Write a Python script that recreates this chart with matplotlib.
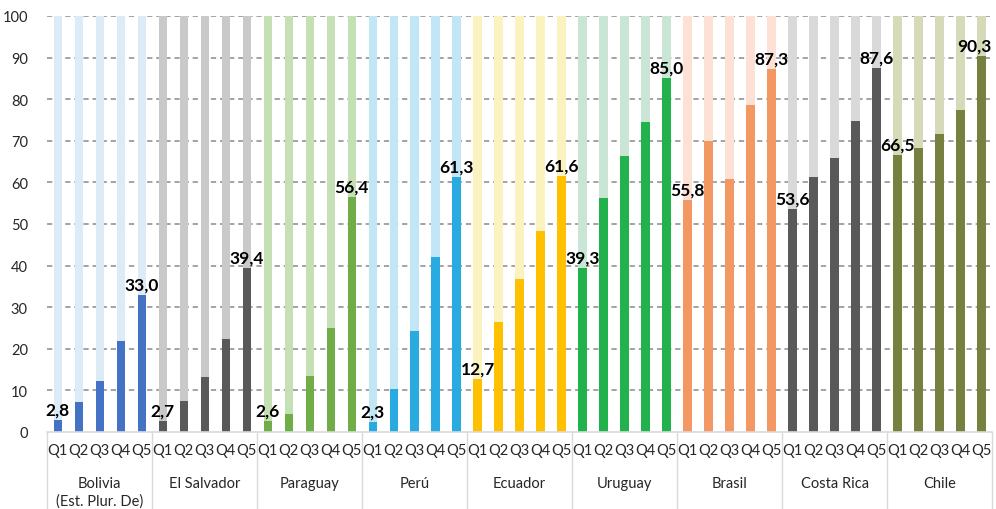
import numpy as np
import matplotlib
matplotlib.use("Agg")
import matplotlib.pyplot as plt

plt.rcParams['font.family'] = ['Lato', 'DejaVu Sans']

countries = ["Bolivia\n(Est. Plur. De)", "El Salvador", "Paraguay", "Perú", "Ecuador",
             "Uruguay", "Brasil", "Costa Rica", "Chile"]
quintiles = ["Q1", "Q2", "Q3", "Q4", "Q5"]

bolivia = [2.8, 7.2, 12.3, 21.8, 33.0]
el_salvador = [2.7, 7.4, 13.2, 22.4, 39.4]
paraguay = [2.6, 4.4, 13.5, 25.0, 56.4]
peru = [2.3, 10.3, 24.3, 42.1, 61.3]
ecuador = [12.7, 26.4, 36.8, 48.3, 61.6]
uruguay = [39.3, 56.3, 66.3, 74.6, 85.0]
brasil = [55.8, 70.0, 60.9, 78.7, 87.3]
costa_rica = [53.6, 61.3, 65.9, 74.8, 87.6]
chile = [66.5, 68.3, 71.7, 77.5, 90.3]

dark_colors = ["#4472C4", "#595959", "#70AD47", "#29ABE2", "#FFC000",
               "#21B14D", "#F39863", "#595959", "#78803F"]
light_colors = ["#DDEBF7", "#C9C9C9", "#C5E0B4", "#C1E6F5", "#FBF3BF",
                "#C9E5D5", "#FCE1D4", "#D9D9D9", "#D6DAB9"]

series = [bolivia, el_salvador, paraguay, peru, ecuador, uruguay, brasil, costa_rica, chile]

fig = plt.figure(figsize=(9.96, 5.10), dpi=100)
ax = fig.add_axes([0.0475, 0.151, 0.9485, 0.8157])

n = len(quintiles)
total = len(series) * n
width = 0.4

yticks = np.arange(0, 101, 10)
# dashed gridlines behind the bars
for yv in yticks[1:]:
    ax.axhline(yv, linestyle=(0, (3.3, 2.4)), color="#8F8F8F", linewidth=1.15, zorder=1)

for g, vals in enumerate(series):
    x = np.arange(n) + g * n
    ax.bar(x, [100] * n, width=width, color=light_colors[g], zorder=2)
    ax.bar(x, vals, width=width, color=dark_colors[g], zorder=3)
    for i in (0, n - 1):
        label = f"{vals[i]:.1f}".replace(".", ",")
        if x[i] == total - 1:
            # last label is pushed in so it stays inside the figure
            ax.text(total - 0.5, vals[i] + 0.6, label, ha="right", va="bottom",
                    fontsize=12.5, fontweight="bold", color="black", zorder=5)
        else:
            ax.text(x[i], vals[i] + 0.6, label, ha="center", va="bottom",
                    fontsize=12.5, fontweight="bold", color="black", zorder=5)

ax.set_xlim(-0.5, total - 0.5)
ax.set_ylim(0, 100)
ax.set_yticks(yticks)

ax.set_xticks(np.arange(total))
ax.set_xticklabels(quintiles * len(series))
ax.set_xticks(np.arange(-0.5, total, n), minor=True)
ax.tick_params(axis="x", which="major", length=0, pad=8, labelsize=10.5, labelcolor="#262626")
ax.tick_params(axis="x", which="minor", length=60, width=1, color="#D9D9D9")
ax.tick_params(axis="y", length=0, pad=14, labelsize=10.5, labelcolor="#262626")

for s in ("top", "right", "left"):
    ax.spines[s].set_visible(False)
ax.spines["bottom"].set_color("#D9D9D9")
ax.spines["bottom"].set_linewidth(1.2)
ax.spines["bottom"].set_zorder(4)

trans = ax.get_xaxis_transform()
for g, name in enumerate(countries):
    ax.text(g * n + (n - 1) / 2, -0.105, name, transform=trans, ha="center", va="top",
            fontsize=10.5, color="#262626", linespacing=1.35)

fig.savefig("out.png", dpi=100)
